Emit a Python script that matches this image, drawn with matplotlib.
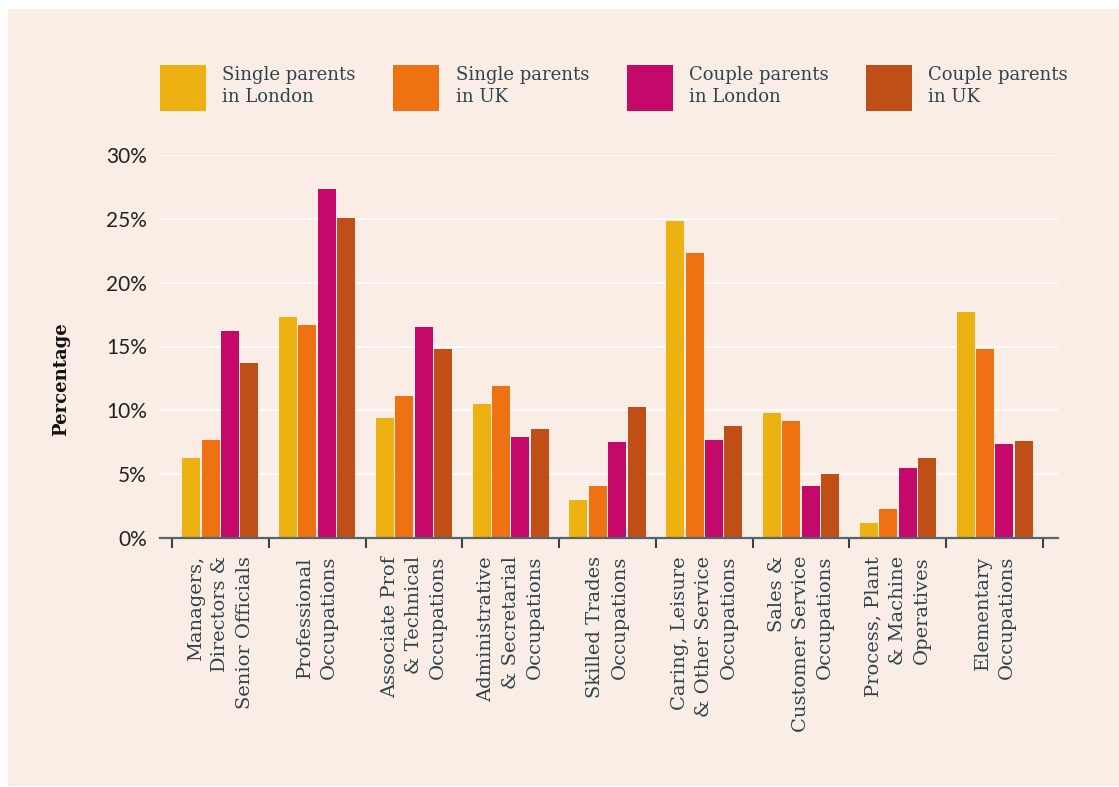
"""Occupation of working parents: London vs UK, single vs couple."""

import matplotlib.pyplot as plt
import numpy as np
from matplotlib.patches import Patch, Rectangle

categories = [
    "Managers,\nDirectors &\nSenior Officials",
    "Professional\nOccupations",
    "Associate Prof\n& Technical\nOccupations",
    "Administrative\n& Secretarial\nOccupations",
    "Skilled Trades\nOccupations",
    "Caring, Leisure\n& Other Service\nOccupations",
    "Sales &\nCustomer Service\nOccupations",
    "Process, Plant\n& Machine\nOperatives",
    "Elementary\nOccupations",
]

single_london = [6.3, 17.3, 9.4, 10.5, 3.0, 24.8, 9.8, 1.2, 17.7]
single_uk = [7.7, 16.7, 11.1, 11.9, 4.1, 22.3, 9.2, 2.3, 14.8]
couple_london = [16.2, 27.3, 16.5, 7.9, 7.5, 7.7, 4.1, 5.5, 7.4]
couple_uk = [13.7, 25.1, 14.8, 8.5, 10.3, 8.8, 5.0, 6.3, 7.6]

series_labels = [
    "Single parents\nin London",
    "Single parents\nin UK",
    "Couple parents\nin London",
    "Couple parents\nin UK",
]
colors = ["#EDB112", "#EE7212", "#C5096B", "#C04F17"]

BG = "#FAEDE6"
TEXT = "#2F434C"
SERIF = "DejaVu Serif"

fig = plt.figure(figsize=(11.19, 7.87), dpi=100, facecolor="white")
fig.add_artist(Rectangle((8 / 1119, 1 / 787), 1, 777 / 787,
                         transform=fig.transFigure, facecolor=BG,
                         edgecolor="none", zorder=-10))

ax = fig.add_axes([160 / 1119, 249 / 787, 898 / 1119, 383 / 787])
ax.set_facecolor(BG)
ax.patch.set_alpha(0)

x = np.arange(len(categories))
offsets = [-0.3, -0.1, 0.1, 0.3]
for vals, off, col in zip([single_london, single_uk, couple_london, couple_uk],
                          offsets, colors):
    ax.bar(x + off, vals, width=0.186, color=col, zorder=3)

ax.set_xlim(-0.624, 8.655)
ax.set_ylim(0, 30)
ax.set_yticks(range(0, 31, 5))
ax.set_yticklabels([f"{v}%" for v in range(0, 31, 5)])
ax.yaxis.grid(True, color="white", linewidth=1.2, zorder=0)
ax.set_axisbelow(True)

for side in ["top", "right", "left"]:
    ax.spines[side].set_visible(False)
ax.spines["bottom"].set_color("#56656B")
ax.spines["bottom"].set_linewidth(1.6)
ax.spines["bottom"].set_zorder(4)

# boundaries get the tick marks, group centres get the labels
ax.set_xticks(np.arange(len(categories) + 1) - 0.5)
ax.set_xticklabels([])
ax.set_xticks(x, minor=True)
ax.set_xticklabels(categories, minor=True, rotation=90, ha="center",
                   va="top", multialignment="right", linespacing=1.45,
                   fontsize=14, family=SERIF, color=TEXT)
ax.tick_params(axis="x", which="major", length=7.2, width=1.5,
               color="#33444C", direction="out")
ax.tick_params(axis="x", which="minor", length=0, pad=13)
ax.tick_params(axis="y", length=0, pad=9.5, labelsize=15,
               labelcolor="#222222")
for lab in ax.get_yticklabels():
    lab.set_family("Lato")

fig.text(61 / 1119, 1 - 379 / 787, "Percentage", rotation=90,
         ha="center", va="center", fontsize=13, fontweight="bold",
         family=SERIF, color="#111111")

handles = [Patch(facecolor=c, edgecolor="none") for c in colors]
leg = fig.legend(handles, series_labels, loc="center left", ncol=4,
                 mode="expand",
                 bbox_to_anchor=(160 / 1119, 1 - 88 / 787, 908 / 1119, 0),
                 frameon=False, borderpad=0, borderaxespad=0,
                 prop={"family": SERIF, "size": 13},
                 labelcolor=TEXT, handlelength=2.55, handleheight=3.55,
                 handletextpad=0.9)
for t in leg.get_texts():
    t.set_linespacing(1.3)

fig.savefig("out.png", dpi=100, facecolor="white")
